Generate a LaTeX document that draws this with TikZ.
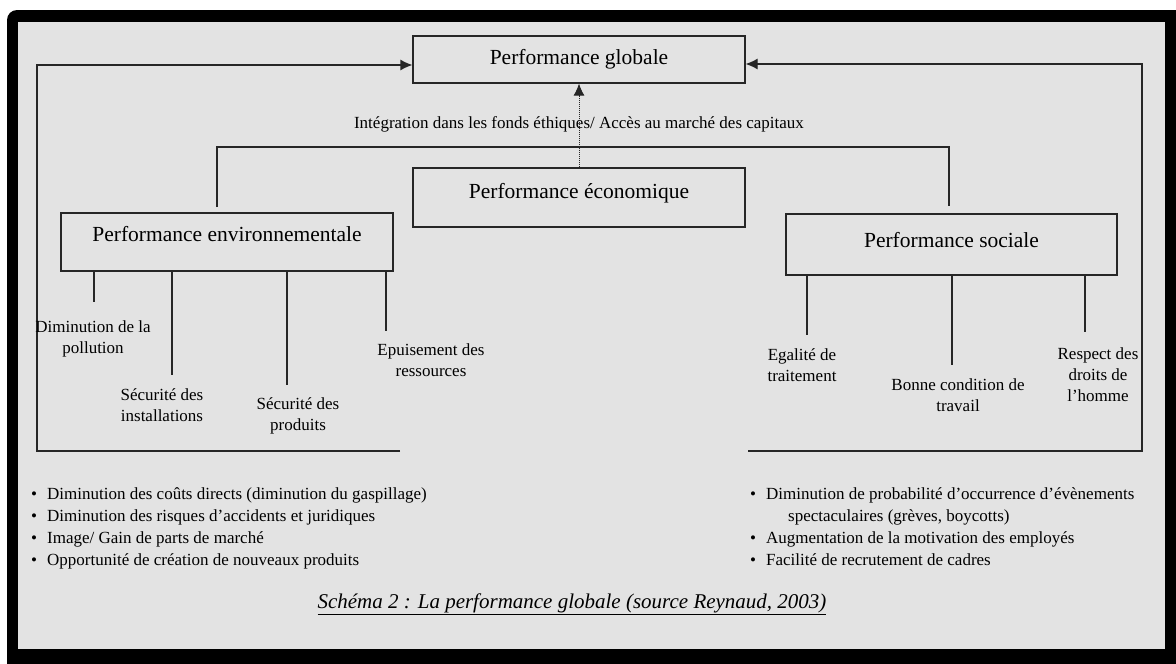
\documentclass[tikz,border=0pt]{standalone}
\usepackage{fontspec}
\setmainfont{Liberation Serif}
\usetikzlibrary{arrows.meta}
\definecolor{paper}{HTML}{E3E3E3}
\definecolor{ink}{HTML}{262626}
\begin{document}
\begin{tikzpicture}[x=1pt,y=-1pt,
  line/.style={draw=ink, line width=1.2pt},
  tip/.style={-{Latex[length=12pt,width=11pt]}},
  arr/.style={line, tip},
  pbox/.style={draw=ink, line width=1.2pt, inner sep=0pt,
    font=\fontsize{21.5}{25}\selectfont, text height=15pt},
  lbl/.style={align=center, inner sep=0pt, font=\fontsize{17}{21}\selectfont},
  list/.style={align=left, inner sep=0pt, anchor=north west,
    font=\fontsize{17}{22}\selectfont},
]
\useasboundingbox (0,0) rectangle (1176,664);
\fill[white] (0,0) rectangle (1176,664);
% frame
\fill[black] (7,664) [rounded corners=10pt] -- (7,10) [sharp corners] -- (1176,10) -- (1176,664) -- cycle;
\fill[paper] (18,22) rectangle (1165,649);

% main boxes
\node[pbox, minimum width=332pt, minimum height=47pt, text depth=6pt] (glob) at (579,59.5) {Performance globale};
\node[pbox, minimum width=332pt, minimum height=59pt, text depth=14pt] (econ) at (579,197.5) {Performance économique};
\node[pbox, minimum width=332pt, minimum height=58pt, text depth=16pt] (env) at (227,242) {Performance environnementale};
\node[pbox, minimum width=331pt, minimum height=61pt, text depth=10pt] (soc) at (951.5,244.5) {Performance sociale};

% financial link
\node[lbl] (integ) at (579,124) {Intégration dans les fonds éthiques/ Accès au marché des capitaux};
\draw[draw=ink, line width=1pt, dash pattern=on 1pt off 1pt, tip] (econ.north) -- (glob.south);

% bracket joining the environmental and social branches
\coordinate (brl) at (217,147);
\coordinate (brr) at (949,147);
\coordinate (brlEnd) at (217,207);
\coordinate (brrEnd) at (949,206);
\draw[line] (brlEnd) -- (brl) -- (brr) -- (brrEnd);

% feedback loops to the global performance
\coordinate (lEnd) at (400,451);
\coordinate (lb) at (37,451);
\coordinate (lt) at (37,65);
\draw[arr] (lEnd) -- (lb) -- (lt) -- (lt -| glob.west);
\coordinate (rEnd) at (748,451);
\coordinate (rb) at (1142,451);
\coordinate (rt) at (1142,64);
\draw[arr] (rEnd) -- (rb) -- (rt) -- (rt -| glob.east);

% environmental items
\coordinate (sdim) at (94,302);
\coordinate (sinst) at (172,375);
\coordinate (sprod) at (287,385);
\coordinate (sepu) at (386,331);
\foreach \s in {sdim,sinst,sprod,sepu} \draw[line] (env.south -| \s) -- (\s);
\node[lbl] (dim) at (93,338.5) {Diminution de la\\pollution};
\node[lbl] (inst) at (162,405) {Sécurité des\\installations};
\node[lbl] (prod) at (298,416) {Sécurité des\\produits};
\node[lbl] (epu) at (431,360) {Epuisement des\\ressources};

% social items
\coordinate (segal) at (807,335);
\coordinate (sbonne) at (952,365);
\coordinate (sresp) at (1085,332);
\foreach \s in {segal,sbonne,sresp} \draw[line] (soc.south -| \s) -- (\s);
\node[lbl] (egal) at (802,365.5) {Egalité de\\traitement};
\node[lbl] (bonne) at (958,395) {Bonne condition de\\travail};
\node[lbl] (resp) at (1098,375) {Respect des\\droits de\\l’homme};

% benefit lists
\node[list] (envlist) at (31,487) {%
•\hspace{10pt}Diminution des coûts directs (diminution du gaspillage)\\
•\hspace{10pt}Diminution des risques d’accidents et juridiques\\
•\hspace{10pt}Image/ Gain de parts de marché\\
•\hspace{10pt}Opportunité de création de nouveaux produits};
\node[list] (soclist) at (750,487) {%
•\hspace{10pt}Diminution de probabilité d’occurrence d’évènements\\
\hspace{38pt}spectaculaires (grèves, boycotts)\\
•\hspace{10pt}Augmentation de la motivation des employés\\
•\hspace{10pt}Facilité de recrutement de cadres};

% caption
\node[inner sep=0pt, font=\fontsize{21}{25}\selectfont\itshape] (cap) at (572,604)
  {\underline{Schéma 2 : La performance globale (source Reynaud, 2003)}};
\end{tikzpicture}
\end{document}
